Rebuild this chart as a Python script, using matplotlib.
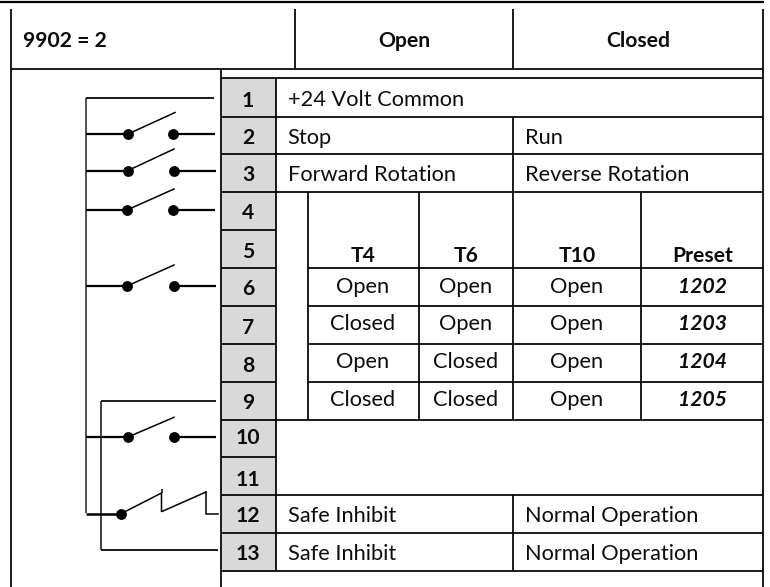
import matplotlib
matplotlib.use("Agg")
import matplotlib.pyplot as plt

plt.rcParams['font.family'] = ['Lato', 'DejaVu Sans']

# ---- content ----
title_cell = "9902 = 2"
state_headers = ["Open", "Closed"]
terminals = ["1", "2", "3", "4", "5", "6", "7", "8", "9", "10", "11", "12", "13"]
common_label = "+24 Volt Common"
open_labels = ["Stop", "Forward Rotation", "Safe Inhibit", "Safe Inhibit"]
closed_labels = ["Run", "Reverse Rotation", "Normal Operation", "Normal Operation"]
preset_headers = ["T4", "T6", "T10", "Preset"]
t4_states = ["Open", "Closed", "Open", "Closed"]
t6_states = ["Open", "Open", "Closed", "Closed"]
t10_states = ["Open", "Open", "Open", "Open"]
presets = ["1202", "1203", "1204", "1205"]

# ---- layout (pixel space) ----
W, H = 770, 587
fig = plt.figure(figsize=(W / 100, H / 100), dpi=100)
ax = fig.add_axes([0, 0, 1, 1])
ax.set_xlim(0, W)
ax.set_ylim(H, 0)
ax.axis("off")

LW = 1.25
INK = "#000000"
TXT = "#0c0c0c"
FS = 15.7
FSB = 15.2
DY = 0.8

def hl(y, x0, x1, lw=LW, c=INK):
    ax.plot([x0, x1], [y, y], color=c, lw=lw, solid_capstyle="butt")

def vl(x, y0, y1, lw=LW, c=INK):
    ax.plot([x, x], [y0, y1], color=c, lw=lw, solid_capstyle="butt")

def txt(x, y, s, ha="left", bold=False, italic=False, size=None):
    ax.text(x, y + DY, s, ha=ha, va="baseline", color=TXT,
            fontsize=size or (FSB if bold else FS),
            fontweight="bold" if bold else "normal",
            fontstyle="italic" if italic else "normal")

rows = [78, 117, 153.5, 191.5, 229.5, 267.5, 305.7, 343.5, 381.7, 419.5, 456.7, 494.7, 532.7, 570.7]

# gray terminal column
ax.fill_between([221, 276], rows[0], rows[-1], color="#d9d9d9", lw=0, zorder=0)

# frame
hl(1.7, 0, 764, lw=1.6)
vl(11, 9, 587)
vl(295, 9, 68.5)
vl(513, 9, 68.5)
vl(763, 9, 587)
hl(68.5, 11, 763)
hl(78, 221, 763)
vl(221, 68.5, 587)
vl(276, 78, rows[-1])

# terminal column separators
for y in rows[1:]:
    hl(y, 221, 276)
# full width rows
for y in [rows[1], rows[2], rows[3], rows[9], rows[11], rows[12], rows[13]]:
    hl(y, 276, 763)
# preset table
for y in rows[5:9]:
    hl(y, 308, 763)
for x in [308, 418.5, 641]:
    vl(x, rows[3], rows[9])
vl(513, rows[1], rows[9])
vl(513, rows[11], rows[13])

# header text
txt(23, 46.5, title_cell, bold=True)
txt(404, 46.5, state_headers[0], ha="center", bold=True)
txt(638, 46, state_headers[1], ha="center", bold=True)

# terminal numbers
num_base = [106, 143, 180, 218, 257, 294, 332.7, 370.7, 408, 443, 485, 521.7, 559]
for s, b in zip(terminals, num_base):
    txt(248, b, s, ha="center", bold=True)

# labels
txt(288, 105, common_label)
left_base = [142.7, 180, 521.7, 559.3]
for a, b, y in zip(open_labels, closed_labels, left_base):
    txt(287.5, y, a)
    txt(525, y, b)

# preset table
col_x = [362.7, 465.7, 577, 703]
for x, s in zip(col_x, preset_headers):
    txt(x, 260.7, s, ha="center", bold=True)
tab_base = [292, 329.3, 367, 405]
for i, y in enumerate(tab_base):
    txt(col_x[0], y, t4_states[i], ha="center")
    txt(col_x[1], y, t6_states[i], ha="center")
    txt(col_x[2], y, t10_states[i], ha="center")
    txt(col_x[3], y, presets[i], ha="center", bold=True, italic=True)

# ---- schematic ----
vl(85.5, 98, 513, lw=1.2, c="#333333")
hl(98, 85.5, 214)

def switch(y, x_dot_l, x_dot_r, x_end, x_arm, y_arm):
    hl(y, 86, x_dot_l, lw=1.6)
    hl(y, x_dot_r, x_end, lw=1.6)
    ax.plot([x_dot_l, x_arm], [y, y_arm], color=INK, lw=1.1)
    ax.plot([x_dot_l, x_dot_r], [y, y], ls="none", marker="o", ms=7.8, color=INK, mew=0)

switch(134, 128, 173, 215, 175, 112.5)
switch(170.5, 128, 174, 216, 174, 149)
switch(210, 127, 173, 215, 174, 189)
switch(286, 127, 174, 216, 174, 265)
switch(437, 128, 174, 216, 174, 417.3)

# second common loop
hl(400.7, 101, 216)
vl(101, 400.7, 550, lw=1.2, c="#222222")
hl(550, 101, 218)

# safe inhibit double contact
hl(514, 86, 120, lw=1.8)
ax.plot([120.5], [514], ls="none", marker="o", ms=7.8, color=INK, mew=0)
ax.plot([120.5, 161.5, 161.5, 206, 206, 218],
        [514, 493, 511.7, 492, 514, 514], color=INK, lw=1.1, solid_joinstyle="miter")
vl(161.5, 489, 493, lw=1.1)
vl(206, 491, 493, lw=1.1)

fig.savefig("out.png", dpi=100)
